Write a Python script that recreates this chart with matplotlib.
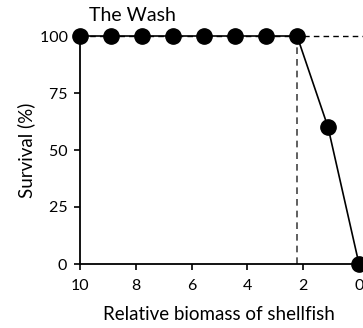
import matplotlib
matplotlib.use('Agg')
import matplotlib.pyplot as plt
import numpy as np

#-- survival versus relative shellfish biomass
biomass  = [10.0, 8.89, 7.78, 6.67, 5.56, 4.44, 3.33, 2.22, 1.11, 0.0]
survival = [100, 100, 100, 100, 100, 100, 100, 100, 60, 0]
xticks   = [10, 8, 6, 4, 2, 0]
yticks   = [0, 25, 50, 75, 100]
threshold_x = 2.22
threshold_y = 100

plt.rcParams['font.family'] = ['Lato', 'DejaVu Sans']

fig = plt.figure(figsize=(3.63, 3.28), dpi=100)
ax  = fig.add_axes([80/363, 64/328, 279/363, 228/328])

#-- dashed guide lines
ax.plot([10, -0.2], [threshold_y, threshold_y], ls=(0, (4, 3)), color='black',
        lw=1.0, clip_on=False, zorder=2)
ax.plot([threshold_x, threshold_x], [0, threshold_y], ls=(0, (4, 3)), color='#444444',
        lw=1.2, zorder=2)

#-- data line with markers
ax.plot(biomass, survival, '-', color='black', lw=1.2, marker='o', ms=11,
        mfc='black', mec='black', clip_on=False, zorder=3)

ax.set_xlim(10, 0)
ax.set_ylim(0, 100)
ax.set_xticks(xticks)
ax.set_yticks(yticks)
ax.set_xticklabels([str(t) for t in xticks])
ax.set_yticklabels([str(t) + ' ' for t in yticks])

for s in ['top', 'right']:
    ax.spines[s].set_visible(False)
for s in ['left', 'bottom']:
    ax.spines[s].set_linewidth(1.3)
ax.tick_params(direction='out', length=4, width=1.2, labelsize=11.5)
ax.tick_params(axis='x', pad=7)
ax.tick_params(axis='y', pad=2)

fig.text(89/363, 1 - 21/328, 'The Wash', fontsize=14, ha='left', va='baseline')
fig.text(219/363, 1 - 320/328, 'Relative biomass of shellfish', fontsize=13.5,
         ha='center', va='baseline')
fig.text(26/363, 1 - 150/328, 'Survival (%)', fontsize=13.5, rotation=90,
         ha='center', va='center')

fig.savefig('out.png', dpi=100)
